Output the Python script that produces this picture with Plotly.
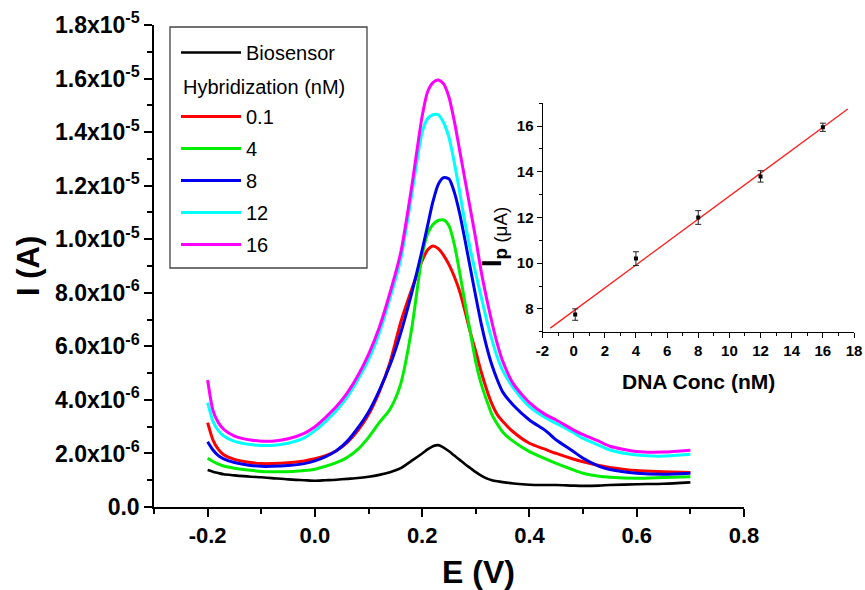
import plotly.graph_objects as go
import numpy as np

# ---------------- data ----------------
E = [-0.2, -0.19, -0.18, -0.17, -0.15, -0.12, -0.1, -0.08, -0.05, -0.02, 0.0, 0.02, 0.04, 0.06,
     0.08, 0.1, 0.12, 0.14, 0.16, 0.18, 0.2, 0.21, 0.22, 0.23, 0.24, 0.25, 0.26, 0.27, 0.28,
     0.29, 0.3, 0.31, 0.32, 0.33, 0.34, 0.35, 0.37, 0.4, 0.43, 0.45, 0.48, 0.5, 0.53, 0.55,
     0.6, 0.65, 0.7]

# currents in microampere (converted to A below)
I_bio = [1.38, 1.32, 1.27, 1.22, 1.18, 1.13, 1.11, 1.08, 1.03, 1.0, 0.98, 1.0, 1.02, 1.05,
         1.08, 1.13, 1.2, 1.3, 1.45, 1.72, 2.0, 2.15, 2.27, 2.31, 2.22, 2.08, 1.92, 1.76, 1.6,
         1.45, 1.3, 1.17, 1.07, 1.0, 0.96, 0.93, 0.88, 0.83, 0.82, 0.82, 0.8, 0.79, 0.8, 0.82,
         0.85, 0.87, 0.92]
I_01 = [3.15, 2.5, 2.15, 1.95, 1.78, 1.66, 1.62, 1.62, 1.65, 1.72, 1.8, 1.92, 2.1, 2.4,
        2.85, 3.45, 4.3, 5.4, 6.9, 8.1, 9.2, 9.6, 9.75, 9.65, 9.4, 9.05, 8.6, 8.05, 7.3,
        6.5, 5.8, 5.05, 4.4, 3.85, 3.45, 3.2, 2.8, 2.38, 2.15, 2.0, 1.8, 1.69, 1.55, 1.48,
        1.36, 1.32, 1.29]
I_4 = [1.82, 1.7, 1.6, 1.53, 1.45, 1.37, 1.33, 1.32, 1.32, 1.36, 1.41, 1.52, 1.66, 1.85,
       2.15, 2.6, 3.15, 3.65, 4.6, 6.6, 9.4, 10.2, 10.55, 10.7, 10.72, 10.5, 9.8, 8.75, 7.6,
       6.5, 5.4, 4.6, 4.0, 3.45, 3.1, 2.8, 2.45, 2.07, 1.8, 1.63, 1.4, 1.26, 1.15, 1.11,
       1.07, 1.1, 1.13]
I_8 = [2.44, 2.13, 1.92, 1.8, 1.66, 1.55, 1.52, 1.52, 1.55, 1.62, 1.72, 1.88, 2.1, 2.45,
       2.95, 3.55, 4.35, 5.3, 6.5, 7.95, 9.6, 10.5, 11.4, 12.05, 12.3, 12.25, 11.75, 10.95, 9.95,
       8.9, 7.85, 6.85, 6.0, 5.3, 4.75, 4.3, 3.8, 3.25, 2.85, 2.5, 2.1, 1.82, 1.52, 1.4,
       1.26, 1.22, 1.26]
I_12 = [3.9, 3.2, 2.85, 2.65, 2.45, 2.33, 2.3, 2.3, 2.38, 2.58, 2.85, 3.2, 3.6, 4.1,
        4.75, 5.5, 6.5, 7.8, 9.25, 11.6, 14.0, 14.5, 14.65, 14.65, 14.35, 13.8, 12.85, 11.75, 10.6,
        9.6, 8.7, 7.85, 7.0, 6.25, 5.6, 5.1, 4.45, 3.75, 3.33, 3.12, 2.8, 2.56, 2.3, 2.13,
        1.94, 1.9, 1.97]
I_16 = [4.74, 3.6, 3.15, 2.9, 2.65, 2.5, 2.46, 2.46, 2.55, 2.75, 3.0, 3.35, 3.75, 4.25,
        4.9, 5.7, 6.7, 8.0, 9.5, 11.9, 14.6, 15.5, 15.85, 15.95, 15.8, 15.3, 14.4, 13.3, 12.2,
        11.1, 10.0, 8.8, 7.8, 6.9, 6.1, 5.45, 4.6, 3.9, 3.45, 3.25, 2.9, 2.7, 2.45, 2.27,
        2.07, 2.05, 2.12]

series_names = ["Biosensor", "0.1", "4", "8", "12", "16"]
series_vals = [I_bio, I_01, I_4, I_8, I_12, I_16]
series_colors = ["#000000", "#ff0000", "#00ee00", "#0000ee", "#00ffff", "#ff00ff"]

# main axis tick labels
x_tickvals = [-0.2, 0.0, 0.2, 0.4, 0.6, 0.8]
x_ticktext = ["-0.2", "0.0", "0.2", "0.4", "0.6", "0.8"]
y_tickvals = [0, 2e-6, 4e-6, 6e-6, 8e-6, 1.0e-5, 1.2e-5, 1.4e-5, 1.6e-5, 1.8e-5]
y_ticktext = ["0.0", "2.0x10<sup>-6</sup>", "4.0x10<sup>-6</sup>", "6.0x10<sup>-6</sup>",
              "8.0x10<sup>-6</sup>", "1.0x10<sup>-5</sup>", "1.2x10<sup>-5</sup>",
              "1.4x10<sup>-5</sup>", "1.6x10<sup>-5</sup>", "1.8x10<sup>-5</sup>"]

# inset calibration
conc = [0.1, 4, 8, 12, 16]
ip = [7.75, 10.2, 12.0, 13.8, 15.95]
ip_err = [0.25, 0.3, 0.3, 0.25, 0.18]
fit_x = [-1.5, 17.6]
x2_tickvals = [-2, 0, 2, 4, 6, 8, 10, 12, 14, 16, 18]
x2_ticktext = ["-2", "0", "2", "4", "6", "8", "10", "12", "14", "16", "18"]
y2_tickvals = [8, 10, 12, 14, 16]

# ---------------- figure ----------------
FONT = "Liberation Sans, Arial, sans-serif"
L, R, T, B = 154, 11, 25, 83
W, H = 865, 590
PW, PH = W - L - R, H - T - B


def px(xp):
    return (xp - L) / PW


def py(yp):
    return (H - B - yp) / PH


fig = go.Figure()

for name, vals, col in zip(series_names, series_vals, series_colors):
    fig.add_trace(go.Scatter(
        x=E, y=[v * 1e-6 for v in vals], mode="lines", name=name,
        line=dict(color=col, width=2.6 if name == "Biosensor" else 3,
                  shape="spline", smoothing=0.7),
        legendgroup=name, xaxis="x", yaxis="y"))
    if name == "Biosensor":
        # blank legend row reserved for the "Hybridization (nM)" header
        fig.add_trace(go.Scatter(
            x=[None], y=[None], mode="lines", name=" ",
            line=dict(color="rgba(0,0,0,0)", width=3), legendgroup="hdr",
            xaxis="x", yaxis="y"))

# inset
slope, intercept = np.polyfit(conc, ip, 1)
fig.add_trace(go.Scatter(
    x=fit_x, y=[slope * v + intercept for v in fit_x], mode="lines",
    line=dict(color="#ff2020", width=1.3), showlegend=False, xaxis="x2", yaxis="y2"))
fig.add_trace(go.Scatter(
    x=conc, y=ip, mode="markers",
    marker=dict(color="black", size=4, symbol="square"),
    error_y=dict(type="data", array=ip_err, color="#222", thickness=1, width=3),
    showlegend=False, xaxis="x2", yaxis="y2"))

main_end = px(744)
fig.update_layout(
    width=W, height=H,
    margin=dict(l=L, r=R, t=T, b=B, autoexpand=False),
    paper_bgcolor="white", plot_bgcolor="rgba(0,0,0,0)",
    font=dict(family=FONT, color="black"),
    showlegend=True,
    legend=dict(
        x=px(176), y=py(33), xanchor="left", yanchor="top",
        font=dict(family=FONT, size=20, color="black"),
        bgcolor="rgba(0,0,0,0)", borderwidth=0,
        itemwidth=60, tracegroupgap=3, traceorder="grouped"),
    xaxis=dict(
        domain=[0, main_end], range=[-0.3, 0.8], anchor="y",
        showline=True, linecolor="black", linewidth=1.5,
        ticks="outside", ticklen=8, tickwidth=1.5, tickcolor="black",
        tickmode="array", tickvals=x_tickvals, ticktext=x_ticktext,
        minor=dict(ticks="outside", ticklen=5, tickwidth=1.5, tickcolor="black", dtick=0.1, tick0=0),
        tickfont=dict(family=FONT, size=22, weight="bold"),
        showgrid=False, zeroline=False),
    yaxis=dict(
        domain=[0, 1], range=[0, 1.8e-5], anchor="x",
        showline=True, linecolor="black", linewidth=1.5,
        ticks="outside", ticklen=8, tickwidth=1.5, tickcolor="black",
        tickmode="array", tickvals=y_tickvals, ticktext=y_ticktext,
        minor=dict(ticks="outside", ticklen=5, tickwidth=1.5, tickcolor="black", dtick=1e-6, tick0=0),
        tickfont=dict(family=FONT, size=23, weight="bold"),
        showgrid=False, zeroline=False),
    xaxis2=dict(
        domain=[px(542.5), 1.0], range=[-2, 18], anchor="y2",
        showline=True, linecolor="black", linewidth=1,
        ticks="outside", ticklen=5, tickwidth=1, tickcolor="black",
        tickmode="array", tickvals=x2_tickvals, ticktext=x2_ticktext,
        minor=dict(ticks="outside", ticklen=3, tickwidth=1, tickcolor="black", dtick=1, tick0=0),
        tickfont=dict(family=FONT, size=15, weight="bold"),
        showgrid=False, zeroline=False),
    yaxis2=dict(
        domain=[py(331.7), py(103.3)], range=[7, 17], anchor="x2",
        showline=True, linecolor="black", linewidth=1,
        ticks="outside", ticklen=5, tickwidth=1, tickcolor="black",
        tickmode="array", tickvals=y2_tickvals,
        minor=dict(ticks="outside", ticklen=3, tickwidth=1, tickcolor="black", dtick=1, tick0=0),
        tickfont=dict(family=FONT, size=15, weight="bold"),
        showgrid=False, zeroline=False),
)

# legend frame
fig.add_shape(type="rect", xref="paper", yref="paper",
              x0=px(170), x1=px(367), y0=py(268), y1=py(27),
              line=dict(color="#444", width=1.3), fillcolor="rgba(0,0,0,0)")

ann = [
    dict(text="Hybridization (nM)", x=px(181), y=py(87), xanchor="left", yanchor="middle",
         font=dict(family=FONT, size=20, color="black")),
    dict(text="<b>I (A)</b>", x=px(28), y=py(266), xanchor="center", yanchor="middle",
         textangle=-90, font=dict(family=FONT, size=31, color="black")),
    dict(text="<b>E (V)</b>", x=px(478), y=py(572), xanchor="center", yanchor="middle",
         font=dict(family=FONT, size=32, color="black")),
    dict(text="<b>DNA Conc (nM)</b>", x=px(698), y=py(381), xanchor="center", yanchor="middle",
         font=dict(family=FONT, size=21, color="black")),
    dict(text="<b>I<sub>p</sub></b><sub> (μA)</sub>", x=px(494), y=py(237),
         xanchor="center", yanchor="middle", textangle=-90,
         font=dict(family=FONT, size=27, color="black")),
]
for a in ann:
    a.update(xref="paper", yref="paper", showarrow=False)
    fig.add_annotation(**a)

fig.write_html("out.html")
